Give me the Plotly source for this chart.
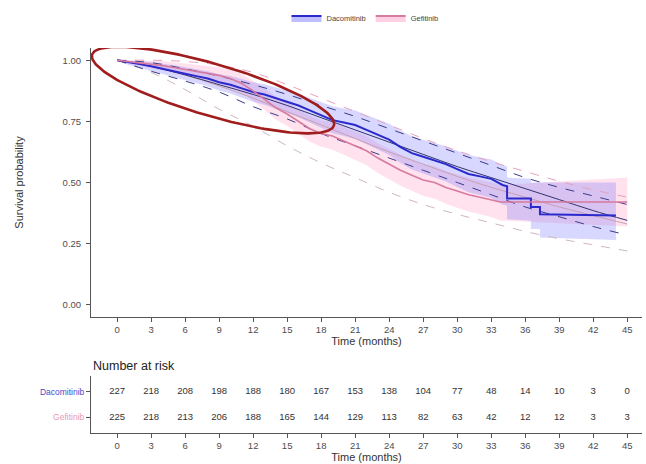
import numpy as np
import plotly.graph_objects as go

W, H = 646, 464

# ---------------- data ----------------
dac_t = [0, 1, 2, 3, 4, 5, 6, 7, 8, 9, 10, 11, 12, 13, 14, 15, 16, 17, 18, 19, 20, 21, 22, 23, 24, 25,
         26, 27, 28, 29, 30, 31, 32, 33, 34, 34.4, 34.4, 36.5, 36.5, 37.3, 37.3, 44]
dac_s = [1.0, 0.993, 0.985, 0.975, 0.966, 0.956, 0.945, 0.935, 0.925, 0.91, 0.9, 0.885, 0.87, 0.86, 0.845,
         0.83, 0.815, 0.795, 0.775, 0.755, 0.745, 0.735, 0.715, 0.695, 0.675, 0.645, 0.62, 0.605, 0.59,
         0.575, 0.555, 0.535, 0.525, 0.515, 0.49, 0.485, 0.435, 0.435, 0.40, 0.40, 0.37, 0.365]
dac_lo = [1.0, 0.98, 0.97, 0.955, 0.944, 0.932, 0.918, 0.906, 0.894, 0.876, 0.864, 0.847, 0.83, 0.818, 0.801,
          0.784, 0.767, 0.745, 0.723, 0.701, 0.69, 0.678, 0.656, 0.634, 0.612, 0.58, 0.553, 0.537, 0.52,
          0.504, 0.482, 0.46, 0.449, 0.437, 0.41, 0.405, 0.35, 0.344, 0.31, 0.31, 0.275, 0.265]
dac_hi = [1.0, 1.0, 0.997, 0.993, 0.987, 0.979, 0.971, 0.963, 0.955, 0.943, 0.935, 0.923, 0.91, 0.902, 0.89,
          0.876, 0.863, 0.846, 0.83, 0.812, 0.803, 0.794, 0.776, 0.758, 0.74, 0.712, 0.69, 0.675, 0.662,
          0.648, 0.63, 0.612, 0.603, 0.594, 0.572, 0.565, 0.52, 0.515, 0.50, 0.50, 0.50, 0.50]

gef_t = [0, 1, 2, 3, 4, 5, 6, 7, 8, 9, 10, 11, 12, 13, 14, 15, 16, 17, 18, 19, 20, 21, 22, 23, 24, 25,
         26, 27, 28, 29, 30, 31, 32, 33, 33.8, 45]
gef_s = [1.0, 0.995, 0.99, 0.985, 0.978, 0.97, 0.962, 0.955, 0.947, 0.938, 0.925, 0.905, 0.875, 0.84, 0.805,
         0.78, 0.75, 0.72, 0.70, 0.69, 0.67, 0.65, 0.63, 0.60, 0.575, 0.55, 0.53, 0.51, 0.50, 0.48, 0.465,
         0.45, 0.44, 0.43, 0.42, 0.42]
gef_lo = [1.0, 0.986, 0.977, 0.969, 0.959, 0.948, 0.937, 0.927, 0.917, 0.905, 0.889, 0.866, 0.834, 0.796,
          0.758, 0.731, 0.699, 0.667, 0.646, 0.634, 0.613, 0.592, 0.571, 0.539, 0.513, 0.487, 0.466, 0.445,
          0.434, 0.413, 0.397, 0.381, 0.37, 0.359, 0.345, 0.32]
gef_hi = [1.0, 1.0, 1.0, 1.0, 0.997, 0.992, 0.987, 0.983, 0.977, 0.971, 0.961, 0.944, 0.916, 0.884, 0.852,
          0.829, 0.801, 0.773, 0.754, 0.746, 0.727, 0.708, 0.689, 0.661, 0.637, 0.613, 0.594, 0.575, 0.566,
          0.547, 0.533, 0.519, 0.51, 0.501, 0.49, 0.52]

fit_t = [0, 3, 6, 9, 12, 15, 18, 21, 24, 27, 30, 33, 36, 39, 42, 45]
dac_fit = [1.0, 0.975, 0.94, 0.9, 0.86, 0.815, 0.765, 0.715, 0.665, 0.615, 0.565, 0.52, 0.475, 0.43, 0.385, 0.345]
dac_fit_hi = [1.0, 0.99, 0.965, 0.935, 0.90, 0.86, 0.815, 0.77, 0.72, 0.67, 0.62, 0.57, 0.52, 0.48, 0.445, 0.41]
dac_fit_lo = [1.0, 0.955, 0.915, 0.87, 0.81, 0.76, 0.70, 0.65, 0.60, 0.55, 0.50, 0.45, 0.40, 0.36, 0.32, 0.285]
gef_fit = [1.0, 0.975, 0.94, 0.895, 0.845, 0.79, 0.735, 0.68, 0.625, 0.575, 0.525, 0.48, 0.44, 0.40, 0.365, 0.33]
gef_fit_hi = [1.0, 1.0, 0.995, 0.98, 0.95, 0.90, 0.845, 0.79, 0.735, 0.68, 0.63, 0.585, 0.545, 0.505, 0.47, 0.44]
gef_fit_lo = [1.0, 0.95, 0.88, 0.80, 0.73, 0.65, 0.58, 0.52, 0.46, 0.41, 0.37, 0.335, 0.30, 0.27, 0.245, 0.22]

risk_times = [0, 3, 6, 9, 12, 15, 18, 21, 24, 27, 30, 33, 36, 39, 42, 45]
risk_dac = [227, 218, 208, 198, 188, 180, 167, 153, 138, 104, 77, 48, 14, 10, 3, 0]
risk_gef = [225, 218, 213, 206, 188, 165, 144, 129, 113, 82, 63, 42, 12, 12, 3, 3]

groups = ["Dacomitinib", "Gefitinib"]
x_ticks = [0, 3, 6, 9, 12, 15, 18, 21, 24, 27, 30, 33, 36, 39, 42, 45]
y_ticks = [0.0, 0.25, 0.5, 0.75, 1.0]
y_tick_labels = ["0.00", "0.25", "0.50", "0.75", "1.00"]

# ---------------- styles ----------------
BLUE = "#2a2acc"
PINK = "#d77a9f"
BLUE_FILL = "rgba(110,110,255,0.28)"
PINK_FILL = "rgba(255,150,195,0.28)"
NAVY_D = "#3b3b88"
PINK_D = "#e6a2bd"
GREY_D = "#cdb8c0"
RED = "#a11d1d"
TXT = "#4d4d4d"

XR = [-2.3, 46.3]
YR = [-0.05, 1.05]
xdom = [91 / W, 642 / W]
main_y = [1 - 317 / H, 1 - 48 / H]
risk_y = [1 - 433 / H, 1 - 376 / H]

fig = go.Figure()

# ribbons
for t, lo, hi, fc in [(gef_t, gef_lo, gef_hi, PINK_FILL), (dac_t, dac_lo, dac_hi, BLUE_FILL)]:
    fig.add_trace(go.Scatter(x=t, y=hi, mode="lines", line=dict(width=0),
                             showlegend=False, hoverinfo="skip"))
    fig.add_trace(go.Scatter(x=t, y=lo, mode="lines", line=dict(width=0),
                             fill="tonexty", fillcolor=fc, showlegend=False, hoverinfo="skip"))

# parametric fits
fig.add_trace(go.Scatter(x=fit_t, y=gef_fit_lo, mode="lines", line=dict(color=GREY_D, width=1, dash="dash", shape="spline"),
                         showlegend=False, hoverinfo="skip"))
fig.add_trace(go.Scatter(x=fit_t, y=gef_fit_hi, mode="lines", line=dict(color=PINK_D, width=1, dash="dash", shape="spline"),
                         showlegend=False, hoverinfo="skip"))
fig.add_trace(go.Scatter(x=fit_t, y=gef_fit, mode="lines", line=dict(color="#c9a0b2", width=1, shape="spline"),
                         showlegend=False, hoverinfo="skip"))
fig.add_trace(go.Scatter(x=fit_t, y=dac_fit_hi, mode="lines", line=dict(color=NAVY_D, width=1, dash="dash", shape="spline"),
                         showlegend=False, hoverinfo="skip"))
fig.add_trace(go.Scatter(x=fit_t, y=dac_fit_lo, mode="lines", line=dict(color=NAVY_D, width=1, dash="dash", shape="spline"),
                         showlegend=False, hoverinfo="skip"))
fig.add_trace(go.Scatter(x=fit_t, y=dac_fit, mode="lines", line=dict(color="#34346e", width=1, shape="spline"),
                         showlegend=False, hoverinfo="skip"))

# KM curves
fig.add_trace(go.Scatter(x=dac_t, y=dac_s, mode="lines", showlegend=False, hoverinfo="skip",
                         line=dict(color=BLUE, width=2)))
fig.add_trace(go.Scatter(x=gef_t, y=gef_s, mode="lines", showlegend=False, hoverinfo="skip",
                         line=dict(color=PINK, width=1.6)))

# legend entries (line over filled key, as in the original)
for g, col, fc in [(groups[0], BLUE, "rgba(110,110,255,0.45)"), (groups[1], PINK, "rgba(255,150,195,0.45)")]:
    fig.add_trace(go.Scatter(x=[None], y=[None], mode="lines", name=g, fill="toself", fillcolor=fc,
                             line=dict(color=col, width=2)))

# highlight ellipse (annotation), defined in pixel geometry -> data coords
px_per_x = (xdom[1] - xdom[0]) * W / (XR[1] - XR[0])
px_per_y = (main_y[1] - main_y[0]) * H / (YR[1] - YR[0])
ec_t, ec_s = 8.46, 0.878
ea, eb, eang = 126, 26, np.deg2rad(16.3)
phi = np.linspace(0, 2 * np.pi, 200)
dx = ea * np.cos(eang) * np.cos(phi) - eb * np.sin(eang) * np.sin(phi)
dy = ea * np.sin(eang) * np.cos(phi) + eb * np.cos(eang) * np.sin(phi)
fig.add_trace(go.Scatter(x=ec_t + dx / px_per_x, y=ec_s - dy / px_per_y, mode="lines",
                         line=dict(color=RED, width=2.6), showlegend=False, hoverinfo="skip"))

# risk table
for gi, vals in enumerate([risk_dac, risk_gef]):
    fig.add_trace(go.Scatter(x=risk_times, y=[2 - gi] * len(risk_times), mode="text",
                             text=[str(v) for v in vals], textfont=dict(size=9.5, color="#333", family="Liberation Sans"),
                             xaxis="x2", yaxis="y2", showlegend=False, hoverinfo="skip"))

axis_common = dict(showgrid=False, zeroline=False, showline=True, linecolor="#555", linewidth=1,
                   ticks="outside", ticklen=4, tickcolor="#555", tickfont=dict(size=9.5, color=TXT),
                   automargin=False)

fig.update_layout(
    width=W, height=H, margin=dict(l=0, r=0, t=0, b=0),
    plot_bgcolor="white", paper_bgcolor="white",
    font=dict(family="Liberation Sans", color=TXT),
    xaxis=dict(domain=xdom, range=XR, tickvals=x_ticks, anchor="y",
               title=dict(text="Time (months)", font=dict(size=11, color="#333"), standoff=1), **axis_common),
    yaxis=dict(domain=main_y, range=YR, tickvals=y_ticks, ticktext=y_tick_labels, anchor="x",
               ticklabelstandoff=3,
               title=dict(text="Survival probability", font=dict(size=11, color="#333"), standoff=36), **axis_common),
    xaxis2=dict(domain=xdom, range=XR, tickvals=x_ticks, anchor="y2",
                title=dict(text="Time (months)", font=dict(size=11, color="#333"), standoff=1), **axis_common),
    yaxis2=dict(domain=risk_y, range=[0.4, 2.6], tickvals=[2, 1],
                ticktext=[f"<span style='color:#4a4ac8'>{groups[0]}</span>",
                          f"<span style='color:#e79ab8'>{groups[1]}</span>"],
                anchor="x2", **axis_common),
    legend=dict(orientation="h", x=0.565, y=1 - 18 / H, xanchor="center", yanchor="middle",
                traceorder="normal",
                font=dict(size=7.5, color="#444"), itemwidth=30, bgcolor="rgba(0,0,0,0)"),
    annotations=[dict(text="Number at risk", x=91 / W, y=1 - 366 / H, xref="paper", yref="paper",
                      xanchor="left", yanchor="middle", showarrow=False,
                      font=dict(size=12.5, color="#222"))],
)
fig.update_yaxes(selector=dict(anchor="x2"), tickfont=dict(size=8.5))

fig.write_html("out.html", config={"displayModeBar": False},
               post_script="document.body.style.margin='0px';")
